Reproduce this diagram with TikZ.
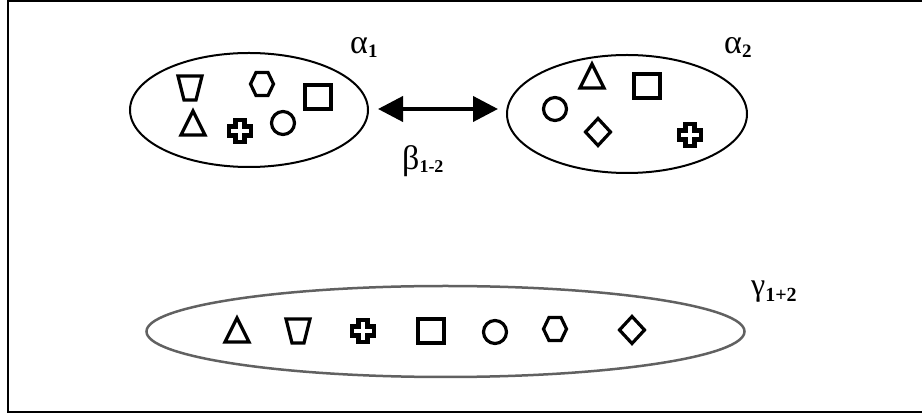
\documentclass[tikz,border=0pt]{standalone}
\usepackage{fontspec}
\setmainfont{Liberation Serif}
\usetikzlibrary{shapes.geometric,arrows.meta}
\tikzset{
  shp/.style={line width=3.2pt, line join=miter},
  setell/.style={draw, ellipse, inner sep=0pt, line width=2pt},
  lbl/.style={anchor=base west, inner sep=0pt},
  pics/tri/.style={code={\draw[shp] (-12,11) -- (0,-13) -- (12,11) -- cycle;}},
  pics/trap/.style={code={\draw[shp] (-12,-12) -- (12,-12) -- (6,12) -- (-6,12) -- cycle;}},
  pics/hexa/.style={code={\draw[shp] (-11.5,0) -- (-6,-11.5) -- (6,-11.5) -- (11.5,0) -- (6,11.5) -- (-6,11.5) -- cycle;}},
  pics/sq/.style={code={\draw[shp] (-13,-12) rectangle (13,12);}},
  pics/circ/.style={code={\draw[shp] (0,0) circle[radius=11.5pt];}},
  pics/diam/.style={code={\draw[shp] (0,-13.5) -- (12.5,0) -- (0,13.5) -- (-12.5,0) -- cycle;}},
  pics/plus/.style={code={\draw[shp, line width=4.4pt] (-4.5,-11) -- (4.5,-11) -- (4.5,-4.5) -- (11,-4.5) -- (11,4.5) -- (4.5,4.5) -- (4.5,11) -- (-4.5,11) -- (-4.5,4.5) -- (-11,4.5) -- (-11,-4.5) -- (-4.5,-4.5) -- cycle;}}
}
\begin{document}
\begin{tikzpicture}[x=1pt,y=-1pt]
\useasboundingbox (0,0) rectangle (922,419);
\fill[white] (0,0) rectangle (922,419);
% frame
\draw[line width=2.5pt] (922,1) -- (8,1) -- (8,412) -- (922,412);

% sets
\node[setell, minimum width=238pt, minimum height=114pt] (e1) at (249,110) {};
\node[setell, minimum width=240pt, minimum height=118pt] (e2) at (627,114) {};
\node[setell, draw=black!62, line width=2.5pt, minimum width=598pt, minimum height=91pt] (e3) at (445.5,331.5) {};

% alpha 1 contents
\pic at (190,88) {trap};
\pic at (262,84) {hexa};
\pic at (318,97) {sq};
\pic at (193,124) {tri};
\pic at (240,131) {plus};
\pic at (283,123) {circ};

% alpha 2 contents
\pic at (592,77) {tri};
\pic at (647,86) {sq};
\pic at (555,109) {circ};
\pic at (598,132) {diam};
\pic at (690,135) {plus};

% gamma contents
\pic at (237,331) {tri};
\pic at (298,331) {trap};
\pic at (363,331) {plus};
\pic at (431,331) {sq};
\pic at (495,332) {circ};
\pic at (555,329) {hexa};
\pic at (632,330) {diam};

% arrow
\coordinate (al) at (378,109);
\coordinate (ar) at (498,109);
\draw[line width=4pt, {Triangle[length=25pt,width=25pt]}-{Triangle[length=25pt,width=25pt]}] (al) -- (ar);

% labels
\node[lbl] (la1) at (350,54) {\fontsize{34}{34}\selectfont α\raisebox{-4pt}{\fontsize{19}{19}\selectfont\bfseries 1}};
\node[lbl] (la2) at (724,54) {\fontsize{34}{34}\selectfont α\raisebox{-4pt}{\fontsize{19}{19}\selectfont\bfseries 2}};
\node[lbl] (lb) at (402,170) {\fontsize{34}{34}\selectfont β\raisebox{-3pt}{\fontsize{18}{18}\selectfont\bfseries 1-2}};
\node[lbl] (lg) at (751,296) {\fontsize{32}{32}\selectfont γ\raisebox{-6pt}{\fontsize{20}{20}\selectfont\bfseries 1+2}};
\end{tikzpicture}
\end{document}
